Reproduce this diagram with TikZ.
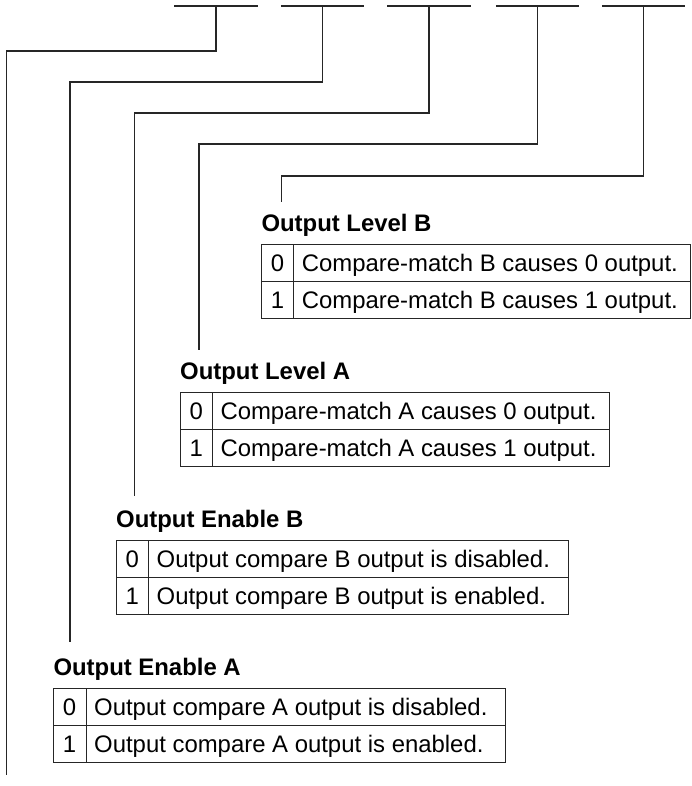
\documentclass[tikz,border=0pt]{standalone}
\usepackage{fontspec}
\setmainfont{Liberation Sans}
\begin{document}
\begin{tikzpicture}[x=1pt,y=-1pt,
  line/.style={line width=1.1pt,black!85},
  tab/.style={line width=0.9pt,black!85},
  bitseg/.style={inner sep=0pt,minimum width=83pt,minimum height=0pt},
  txt/.style={anchor=base west,inner sep=0pt,font=\fontsize{23.9}{28}\selectfont},
  dig/.style={anchor=base,inner sep=0pt,font=\fontsize{23.9}{28}\selectfont},
  head/.style={anchor=base west,inner sep=0pt,font=\fontsize{23.9}{28}\selectfont\bfseries}]
\useasboundingbox (0,0) rectangle (692,786);

% bit segments
\node[bitseg] (b1) at (216,6) {};
\node[bitseg] (b2) at (322.5,6) {};
\node[bitseg] (b3) at (429,6) {};
\node[bitseg] (b4) at (537.5,6) {};
\node[bitseg] (b5) at (643.5,6) {};
\foreach \b in {b1,b2,b3,b4,b5} \draw[line] (\b.west) -- (\b.east);

% connector end points
\coordinate (eA) at (6.3,775);
\coordinate (eB) at (70,642);
\coordinate (eC) at (134.3,496);
\coordinate (eD) at (199,350);
\coordinate (eE) at (281.5,202);

\draw[line] (b1.center) -- ++(0,45) -| (eA);
\draw[line] (b2.center) -- ++(0,76) -| (eB);
\draw[line] (b3.center) -- ++(0,107) -| (eC);
\draw[line] (b5.center) -- ++(0,170) -| (eE);
\draw[line] (b4.center) -- ++(0,138) -| (eD);

% ---- Output Level B
\node[head] (hE) at (261.3,231.7) {Output Level B};
\draw[tab] (261.3,244) rectangle (690.5,318);
\draw[tab] (261.3,281) -- (690.5,281);
\draw[tab] (293.7,244) -- (293.7,318);
\node[dig] (dE0) at (277.5,271.7) {0};
\node[txt] (tE0) at (301.7,271.7) {Compare-match B causes 0 output.};
\node[dig] (dE1) at (277.5,308.7) {1};
\node[txt] (tE1) at (301.7,308.7) {Compare-match B causes 1 output.};

% ---- Output Level A
\node[head] (hD) at (180,379.7) {Output Level A};
\draw[tab] (180,392) rectangle (609.2,466);
\draw[tab] (180,429) -- (609.2,429);
\draw[tab] (212.3,392) -- (212.3,466);
\node[dig] (dD0) at (196.2,419.7) {0};
\node[txt] (tD0) at (220.3,419.7) {Compare-match A causes 0 output.};
\node[dig] (dD1) at (196.2,456.7) {1};
\node[txt] (tD1) at (220.3,456.7) {Compare-match A causes 1 output.};

% ---- Output Enable B
\node[head] (hC) at (116,527.7) {Output Enable B};
\draw[tab] (116,540) rectangle (568,614);
\draw[tab] (116,577) -- (568,577);
\draw[tab] (148.5,540) -- (148.5,614);
\node[dig] (dC0) at (132.2,567.7) {0};
\node[txt] (tC0) at (156.5,567.7) {Output compare B output is disabled.};
\node[dig] (dC1) at (132.2,604.7) {1};
\node[txt] (tC1) at (156.5,604.7) {Output compare B output is enabled.};

% ---- Output Enable A
\node[head] (hB) at (53.3,675.7) {Output Enable A};
\draw[tab] (53.3,688) rectangle (505.5,762);
\draw[tab] (53.3,725) -- (505.5,725);
\draw[tab] (86,688) -- (86,762);
\node[dig] (dB0) at (69.6,715.7) {0};
\node[txt] (tB0) at (94,715.7) {Output compare A output is disabled.};
\node[dig] (dB1) at (69.6,752.7) {1};
\node[txt] (tB1) at (94,752.7) {Output compare A output is enabled.};
\end{tikzpicture}
\end{document}
